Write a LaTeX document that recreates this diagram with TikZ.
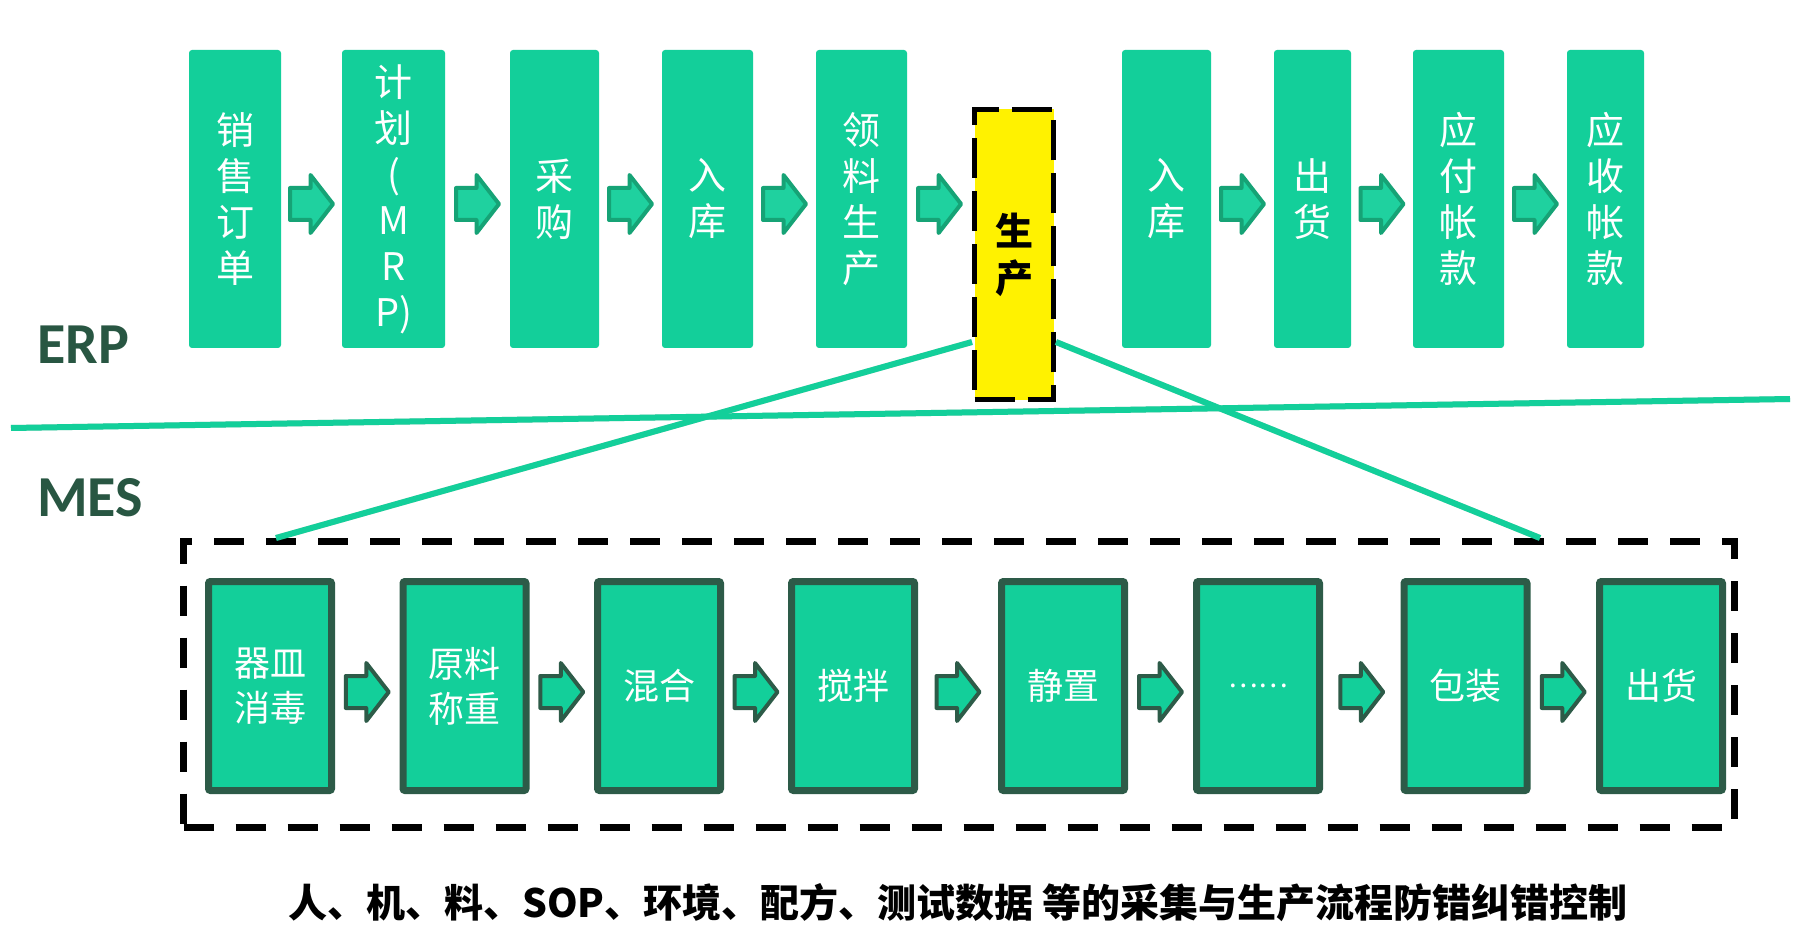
\documentclass[tikz,border=0pt]{standalone}
\usepackage{fontspec}
\newfontfamily\cjk{Noto Sans CJK SC}
\newfontfamily\labfont{Carlito}
\usetikzlibrary{calc}
\definecolor{boxgreen}{RGB}{19,207,154}
\definecolor{darkgreen}{RGB}{45,91,72}
\definecolor{arrowedge}{RGB}{22,163,118}
\definecolor{labgreen}{RGB}{40,86,66}
\begin{document}
\begin{tikzpicture}[x=1pt,y=-1pt,
  erpbox/.style={fill=boxgreen, rounded corners=3pt, inner sep=0pt, minimum height=298pt,
    text=white, align=center, font=\cjk\fontsize{38}{46}\selectfont},
  prodbox/.style={fill=yellow, draw=black, line width=5pt, dash pattern=on 40pt off 13pt,
    inner sep=0pt, minimum width=79pt, minimum height=290pt, align=center,
    font=\cjk\bfseries\fontsize{38}{47}\selectfont},
  mesbox/.style={fill=boxgreen, draw=darkgreen, line width=7pt, rounded corners=2pt,
    inner sep=0pt, minimum width=123pt, minimum height=209pt, text=white, align=center,
    font=\cjk\fontsize{36}{45}\selectfont},
  frame/.style={draw=black, line width=7pt, dash pattern=on 30pt off 22pt},
  greenline/.style={draw=boxgreen, line width=6pt},
  shadowline/.style={draw=black!45, opacity=0.35, line width=6pt},
  layer/.style={text=labgreen, font=\labfont\bfseries\fontsize{58}{58}\selectfont, inner sep=0pt},
  caption/.style={text=black, font=\cjk\bfseries\fontsize{39}{39}\selectfont, inner sep=0pt},
  erparrow/.pic={\filldraw[fill=boxgreen!95!white, draw=arrowedge, line width=4pt, line join=round]
    (-21.5,-16) -- (-1,-16) -- (-1,-29) -- (21.5,0) -- (-1,29) -- (-1,16) -- (-21.5,16) -- cycle;},
  mesarrow/.pic={\filldraw[fill=boxgreen, draw=darkgreen, line width=4pt, line join=round]
    (-21.5,-16) -- (-1,-16) -- (-1,-29) -- (21.5,0) -- (-1,29) -- (-1,16) -- (-21.5,16) -- cycle;}
]
\useasboundingbox[fill=white] (0,0) rectangle (1800,933);

% ERP row
\node[erpbox, minimum width=92pt]  (e1) at (235,199)   {销\\售\\订\\单};
\node[erpbox, minimum width=103pt] (e2) at (393.5,199) {计\\划\\(\\M\\R\\P)};
\node[erpbox, minimum width=89pt]  (e3) at (554.5,199) {采\\购};
\node[erpbox, minimum width=91pt]  (e4) at (707.5,199) {入\\库};
\node[erpbox, minimum width=91pt]  (e5) at (861.5,199) {领\\料\\生\\产};
\node[prodbox] (prod) at (1014,254.5) {生\\产};
\node[erpbox, minimum width=89pt]  (e7) at (1166.5,199) {入\\库};
\node[erpbox, minimum width=77pt]  (e8) at (1312.5,199) {出\\货};
\node[erpbox, minimum width=91pt]  (e9) at (1458.5,199) {应\\付\\帐\\款};
\node[erpbox, minimum width=77pt]  (e10) at (1605.5,199) {应\\收\\帐\\款};

\foreach \a/\b in {e1/e2,e2/e3,e3/e4,e4/e5,e5/prod,e7/e8,e8/e9,e9/e10}{
  \coordinate (mid) at ($(\a.east)!0.5!(\b.west)$);
  \pic at (mid |- 0,204) {erparrow};
}

% labels
\node[layer, anchor=base west] (erp) at (37,363) {ERP};
\node[layer, anchor=base west] (mes) at (37,516) {MES};

% MES frame and boxes
\node[frame, minimum width=1551pt, minimum height=286pt, inner sep=0pt] (frame) at (959,684.5) {};
\node[mesbox] (m1) at (270,686)    {器皿\\消毒};
\node[mesbox] (m2) at (464.5,686)  {原料\\称重};
\node[mesbox] (m3) at (659,686)    {混合};
\node[mesbox] (m4) at (853,686)    {搅拌};
\node[mesbox] (m5) at (1063,686)   {静置};
\node[mesbox] (m6) at (1258,686)   {\fontsize{28}{28}\selectfont ……};
\node[mesbox] (m7) at (1465.5,686) {包装};
\node[mesbox] (m8) at (1661,686)   {出货};

\foreach \a/\b in {m1/m2,m2/m3,m3/m4,m4/m5,m5/m6,m6/m7,m7/m8}{
  \coordinate (mid) at ($(\a.east)!0.5!(\b.west)$);
  \pic at (mid |- 0,692) {mesarrow};
}

% connecting lines
\coordinate (dl) at (11,428);
\coordinate (dr) at (1790,399);
\coordinate (pl) at (prod.west |- 0,342);
\coordinate (pr) at (prod.east |- 0,342);
\coordinate (fl) at (frame.north west -| 276,0);
\coordinate (fr) at (frame.north west -| 1540,0);
\begin{scope}[shift={(2,4)}]
  \draw[shadowline] (dl) -- (dr);
  \draw[shadowline] (pl) -- (fl);
  \draw[shadowline] (pr) -- (fr);
\end{scope}
\draw[greenline] (dl) -- (dr);
\draw[greenline] (pl) -- (fl);
\draw[greenline] (pr) -- (fr);

% caption
\node[caption] (cap) at (958,903) {人、机、料、SOP、环境、配方、测试数据 等的采集与生产流程防错纠错控制};
\end{tikzpicture}
\end{document}
